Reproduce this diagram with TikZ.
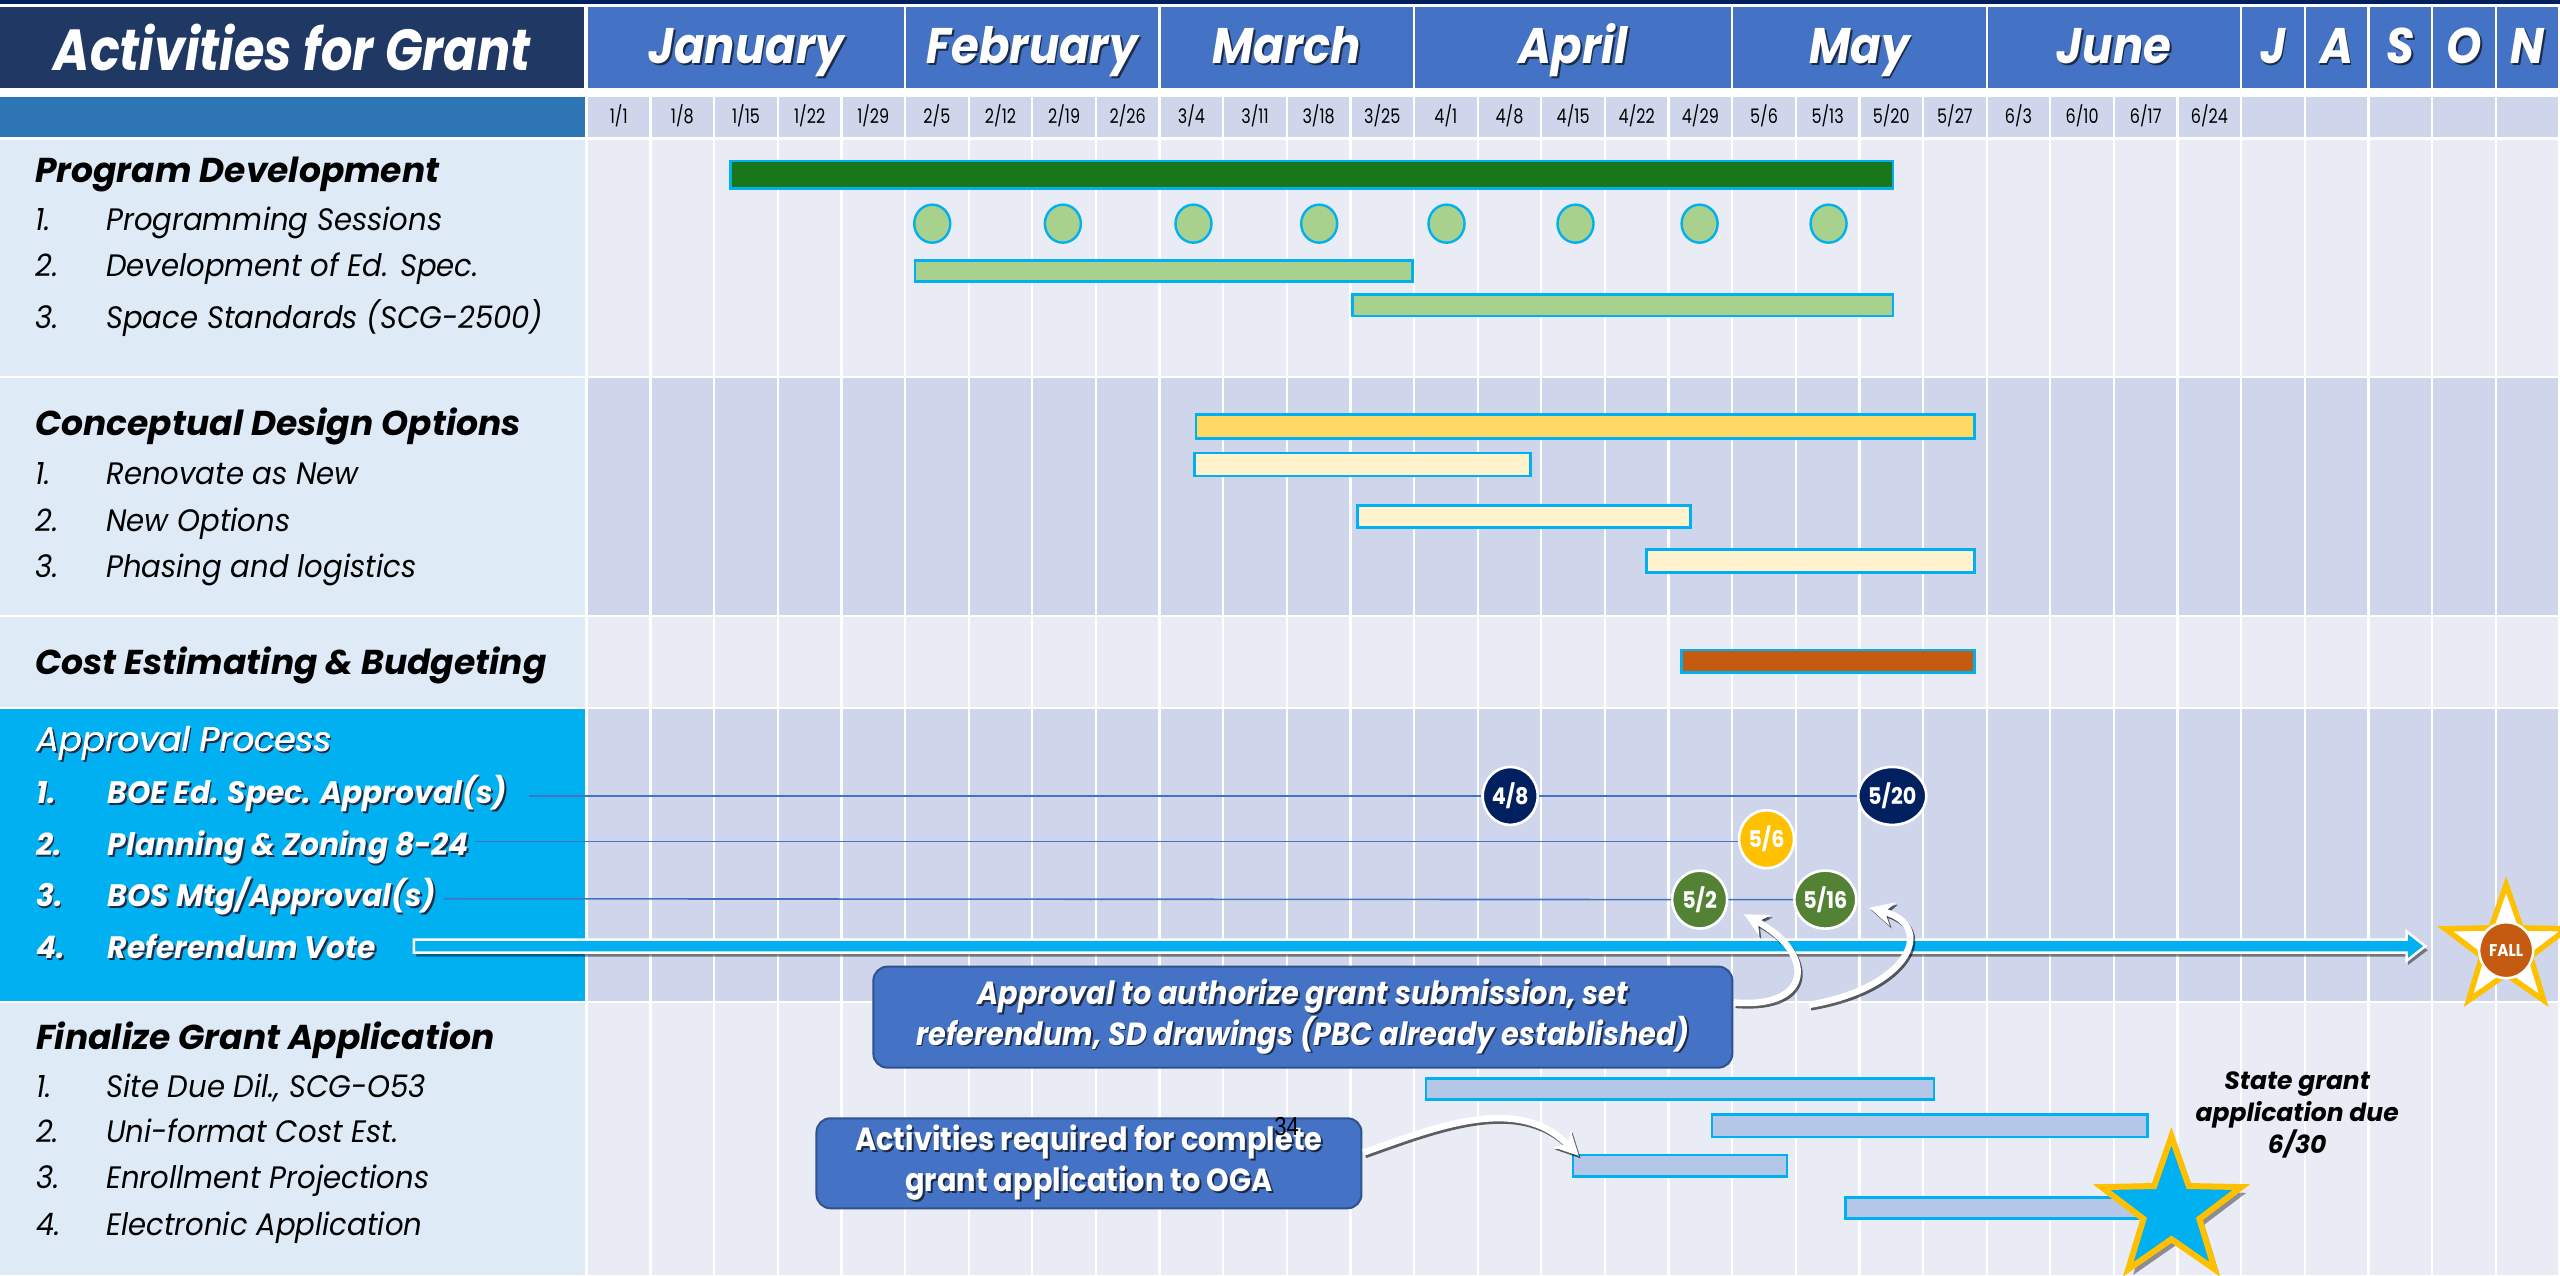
\documentclass[tikz,border=0pt]{standalone}
\usepackage{fontspec}
\usetikzlibrary{shapes.geometric,arrows.meta,calc}
\setmainfont{Poppins}
\newfontfamily\fA{Poppins}[FakeStretch=0.85]
\newfontfamily\fM{Poppins}[FakeStretch=0.9]
\newfontfamily\fD{Poppins}[FakeStretch=0.8]
\newfontfamily\fI{Poppins}[FakeStretch=0.94]
\newfontfamily\fB{Poppins}[FakeStretch=0.96]
\newfontfamily\fR{Liberation Sans}[FakeStretch=0.85]
\definecolor{topnavy}{HTML}{002060}
\definecolor{titlenavy}{HTML}{203864}
\definecolor{month}{HTML}{4472C4}
\definecolor{dateleft}{HTML}{2E75B6}
\definecolor{dgrid}{HTML}{CFD5EA}
\definecolor{lgrid}{HTML}{E9EBF5}
\definecolor{lpanel}{HTML}{DEEBF7}
\definecolor{cyanb}{HTML}{00B0F0}
\definecolor{dgreen}{HTML}{18771A}
\definecolor{lgreen}{HTML}{A9D18E}
\definecolor{yel}{HTML}{FFD966}
\definecolor{lyel}{HTML}{FFF2CC}
\definecolor{orng}{HTML}{C55A11}
\definecolor{lblue}{HTML}{B4C7E7}
\definecolor{gold}{HTML}{FFC000}
\definecolor{mgreen}{HTML}{548235}
\definecolor{boxedge}{HTML}{2F528F}
\definecolor{shcol}{HTML}{1B2B48}
\definecolor{linecol}{HTML}{4472C4}
\newcommand\sdw[1]{\leavevmode\rlap{\kern1.8pt\raisebox{-1.8pt}{\textcolor{shcol}{#1}}}#1}
\newcommand\fatsdw[1]{\leavevmode\rlap{\kern2.2pt\raisebox{-1.8pt}{\textcolor{shcol}{#1}}}\rlap{#1}\kern0.8pt#1}
\begin{document}
\begin{tikzpicture}[x=1.6327pt,y=-1.6327pt,
  bar/.style={fill=#1, draw=cyanb, line width=2.6pt},
  sess/.style={ellipse, fill=lgreen, draw=cyanb, line width=2.4pt, minimum width=36pt, minimum height=38pt, inner sep=0},
  mile/.style={ellipse, fill=#1, draw=white, line width=2.6pt, minimum width=55pt, minimum height=58pt, inner sep=0, text=white, font=\fM\bfseries\fontsize{23}{23}\selectfont},
  sechd/.style={anchor=base west, inner sep=0, font=\bfseries\itshape\fontsize{34.5}{40}\selectfont},
  item/.style={anchor=base west, inner sep=0, font=\fI\itshape\fontsize{31}{36}\selectfont},
  apitem/.style={anchor=base west, inner sep=0, text=white, font=\fB\bfseries\itshape\fontsize{31}{36}\selectfont},
  monthtxt/.style={anchor=base, inner sep=0, text=white, font=\fM\bfseries\itshape\fontsize{50}{50}\selectfont},
  datetxt/.style={anchor=base, inner sep=0, text=black, font=\fD\fontsize{20}{20}\selectfont},
  mline/.style={draw=linecol, line width=1.6pt},
  callout/.style={rectangle, rounded corners=14pt, fill=month, draw=boxedge, line width=2pt, text=white, align=center, inner sep=0, font=\fM\bfseries\itshape\fontsize{32}{38}\selectfont},
  warrow/.style={draw=white, line width=6.5pt, -{Stealth[length=24pt,width=24pt]}},
  sharrow/.style={draw=black, opacity=0.6, line width=6.5pt, -{Stealth[length=24pt,width=24pt]}}
]
\useasboundingbox (0,0) rectangle (1568,781);
\fill[white] (0,0) rectangle (1568,781);
\fill[topnavy] (0,0) rectangle (1568,2.6);

% ---------- header ----------
\fill[titlenavy] (0,4.3) rectangle (357.7,54);
\node[anchor=base, inner sep=0, text=white, font=\fA\bfseries\itshape\fontsize{58}{58}\selectfont] (title) at (179,43.4) {Activities for Grant};
\foreach \a/\b/\m in {0/5/January,5/9/February,9/13/March,13/18/April,18/22/May,22/26/June,26/27/J,27/28/A,28/29/S,29/30/O,30/31/N} {
  \pgfmathsetmacro\xa{359.5+\a*38.97+0.7}
  \pgfmathsetmacro\xb{359.5+\b*38.97-0.7}
  \fill[month] (\xa,4.3) rectangle (\xb,54);
  \node[monthtxt] (m-\m) at ({(\xa+\xb)/2},39) {\sdw{\m}};
}
% ---------- date row ----------
\fill[dateleft] (0,59.4) rectangle (358.6,84);
\foreach \i in {0,...,30} {
  \pgfmathsetmacro\xa{359.5+\i*38.97+0.7}
  \pgfmathsetmacro\xb{359.5+(\i+1)*38.97-0.7}
  \fill[dgrid] (\xa,59.4) rectangle (\xb,84);
}
\foreach \d [count=\i from 0] in {{1/1},{1/8},{1/15},{1/22},{1/29},{2/5},{2/12},{2/19},{2/26},{3/4},{3/11},{3/18},{3/25},{4/1},{4/8},{4/15},{4/22},{4/29},{5/6},{5/13},{5/20},{5/27},{6/3},{6/10},{6/17},{6/24}} {
  \node[datetxt] (dt\i) at ({359.5+(\i+0.5)*38.97},75.5) {\d};
}
% ---------- section backgrounds ----------
\foreach \t/\bt/\c/\l in {85.8/230.6/lgrid/lpanel,231.8/376.6/dgrid/lpanel,377.9/433.1/lgrid/lpanel,434.4/613/dgrid/cyanb,614.3/781/lgrid/lpanel} {
  \fill[\l] (0,\t) rectangle (358.6,\bt);
  \foreach \i in {0,...,30} {
    \pgfmathsetmacro\xa{359.5+\i*38.97+0.7}
    \pgfmathsetmacro\xb{359.5+(\i+1)*38.97-0.7}
    \fill[\c] (\xa,\t) rectangle (\xb,\bt);
  }
}

% ---------- left panel texts ----------
\node[sechd] (pd) at (21.5,112) {Program Development};
\node[item] (pd1n) at (21.5,141) {1.};
\node[item] (pd1) at (65,141) {Programming Sessions};
\node[item] (pd2n) at (21.5,169.5) {2.};
\node[item] (pd2) at (65,169.5) {Development of Ed. Spec.};
\node[item] (pd3n) at (21.5,201) {3.};
\node[item] (pd3) at (65,201) {Space Standards (SCG-2500)};

\node[sechd] (cd) at (21.5,267) {Conceptual Design Options};
\node[item] (cd1n) at (21.5,297) {1.};
\node[item] (cd1) at (65,297) {Renovate as New};
\node[item] (cd2n) at (21.5,325.5) {2.};
\node[item] (cd2) at (65,325.5) {New Options};
\node[item] (cd3n) at (21.5,354) {3.};
\node[item] (cd3) at (65,354) {Phasing and logistics};

\node[sechd] (ce) at (21.5,413) {Cost Estimating \& Budgeting};

\node[anchor=base west, inner sep=0, text=white, font=\itshape\fontsize{34}{40}\selectfont] (ap) at (22,460.5) {\fatsdw{Approval Process}};
\node[apitem] (ap1n) at (22,492) {\sdw{1.}};
\node[apitem] (ap1) at (66,492) {\sdw{BOE Ed. Spec. Approval(s)}};
\node[apitem] (ap2n) at (22,524) {\sdw{2.}};
\node[apitem] (ap2) at (66,524) {\sdw{Planning \& Zoning 8-24}};
\node[apitem] (ap3n) at (22,555.5) {\sdw{3.}};
\node[apitem] (ap3) at (66,555.5) {\sdw{BOS Mtg/Approval(s)}};
\node[apitem] (ap4n) at (22,587) {\sdw{4.}};
\node[apitem] (ap4) at (66,587) {\sdw{Referendum Vote}};

\node[sechd] (fg) at (22,643) {Finalize Grant Application};
\node[item] (fg1n) at (22,672) {1.};
\node[item] (fg1) at (65,672) {Site Due Dil., SCG-O53};
\node[item] (fg2n) at (22,700) {2.};
\node[item] (fg2) at (65,700) {Uni-format Cost Est.};
\node[item] (fg3n) at (22,728) {3.};
\node[item] (fg3) at (65,728) {Enrollment Projections};
\node[item] (fg4n) at (22,757) {4.};
\node[item] (fg4) at (65,757) {Electronic Application};

% ---------- bars ----------
\draw[bar=dgreen] (447.5,98.5) rectangle (1159.5,115.5);
\foreach \x [count=\k] in {571,651,731,808,886,965,1041,1120} {
  \node[sess] (s\k) at (\x,137) {};
}
\draw[bar=lgreen] (560.5,159.5) rectangle (865,172.5);
\draw[bar=lgreen] (828.5,180.5) rectangle (1159.5,193.5);

\draw[bar=yel] (732.5,254) rectangle (1209.5,268.5);
\draw[bar=lyel] (731.5,277.5) rectangle (937.5,291.5);
\draw[bar=lyel] (831.5,309.5) rectangle (1035.5,323);
\draw[bar=lyel] (1008.5,336.5) rectangle (1209.5,350.5);

\draw[bar=orng] (1030,398) rectangle (1209.5,412);

\draw[bar=lblue] (873.5,660.5) rectangle (1184.5,673.5);
\draw[bar=lblue] (1048.5,682.5) rectangle (1315.5,696.5);
\draw[bar=lblue] (963.5,707.5) rectangle (1094.5,720.5);
\draw[bar=lblue] (1130.5,733.5) rectangle (1312,746.5);

% ---------- approval milestones ----------
\node[mile=topnavy] (a48) at (925,487.5) {4/8};
\node[mile=topnavy] (a520) at (1159,487.5) {5/20};
\node[mile=gold] (a56) at (1082,514) {5/6};
\node[mile=mgreen] (a52) at (1041,551) {5/2};
\node[mile=mgreen] (a516) at (1118,551) {5/16};
\coordinate (l1) at (324,487.5);
\coordinate (l2) at (291,515.5);
\coordinate (l3) at (272,550.5);
\draw[mline] (l1) -- (a48.west) (a48.east) -- (a520.west);
\draw[mline] (l2) -- (l2 -| a56.west);
\draw[mline] (l3) -- (a52.west) (a52.east) -- (a516.west);

% referendum arrow
\fill[black, opacity=0.45] (255,578) -- (1475,578) -- (1475,573) -- (1487,582) -- (1475,591) -- (1475,586) -- (255,586) -- cycle;
\filldraw[fill=cyanb, draw=white, line width=2.5pt] (253.5,575.5) -- (1474,575.5) -- (1474,570.5) -- (1485.5,579.5) -- (1474,588.5) -- (1474,583.5) -- (253.5,583.5) -- cycle;

% FALL star
\node[star, star points=5, star point ratio=2.5, minimum size=128pt, inner sep=0, fill=white, draw=gold, line width=5.5pt] (fallstar) at (1535,581) {};
\node[ellipse, fill=orng, draw=white, line width=2.5pt, minimum width=54pt, minimum height=56pt, inner sep=0, text=white, font=\fM\bfseries\fontsize{17}{17}\selectfont] (fall) at (1535,582) {FALL};

% ---------- callouts ----------
\node[callout, minimum width=859pt, minimum height=101pt] (cb1) at (798,623) {\sdw{Approval to authorize grant submission, set}\\\sdw{referendum, SD drawings (PBC already established)}};
\node[callout, minimum width=545pt, minimum height=90pt, font=\fM\bfseries\fontsize{32}{41}\selectfont] (cb2) at (667,712.5) {\sdw{Activities required for complete}\\\sdw{grant application to OGA}};
\node[inner sep=0, font=\fR\fontsize{26}{26}\selectfont] (pg) at (788,690) {34};

\coordinate (t1) at (1062,614);
\coordinate (h1) at (1068,560);
\coordinate (t2) at (1108,615.5);
\coordinate (h2) at (1145,556);
\coordinate (t3) at (835,706);
\coordinate (h3) at (967,708);
\draw[sharrow, transform canvas={shift={(1.8pt,-2.4pt)}}] (t1) .. controls (1112,618) and (1111,583) .. (h1);
\draw[warrow] (t1) .. controls (1112,618) and (1111,583) .. (h1);
\draw[sharrow, transform canvas={shift={(1.8pt,-2.4pt)}}] (t2) .. controls (1170,605) and (1186,567) .. (h2);
\draw[warrow] (t2) .. controls (1170,605) and (1186,567) .. (h2);
\draw[sharrow, transform canvas={shift={(1.8pt,-2.4pt)}}] (t3) .. controls (880,690) and (930,670) .. (h3);
\draw[warrow] (t3) .. controls (880,690) and (930,670) .. (h3);

% ---------- state grant star ----------
\node[star, star points=5, star point ratio=2.5, minimum size=147pt, inner sep=0, fill=black, opacity=0.4] (bstarsh) at (1333,744.5) {};
\node[star, star points=5, star point ratio=2.5, minimum size=147pt, inner sep=0, fill=cyanb, draw=gold, line width=6pt] (bstar) at (1330,741) {};
\node[align=center, inner sep=0, font=\bfseries\itshape\fontsize{25}{32}\selectfont] (sg) at (1407,683) {State grant\\application due\\6/30};
\end{tikzpicture}
\end{document}
